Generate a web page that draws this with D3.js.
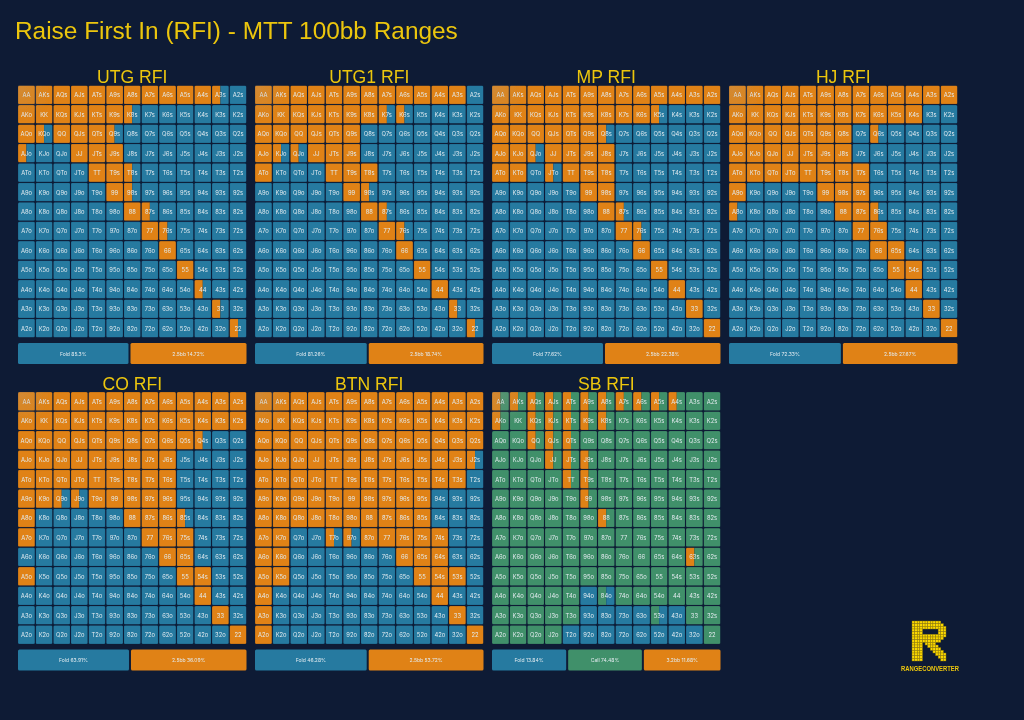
<!DOCTYPE html>
<html>
<head>
<meta charset="utf-8">
<script src="https://d3js.org/d3.v7.min.js"></script>
<style>
html, body { margin: 0; background: #0e1b35; overflow: hidden; }
text { font-family: 'Liberation Sans', Arial, sans-serif; }
.hand, .legend-label { font-family: Inter, sans-serif; fill: #e3ebf0; text-anchor: middle; dominant-baseline: central; }
</style>
</head>
<body>
<div id="my_dataviz"></div>
<script>
// hand grid labels
const ranks = ["A", "K", "Q", "J", "T", "9", "8", "7", "6", "5", "4", "3", "2"];

// raise share of every hand in percent, row by row
const utgRaise = [
  [100,100,100,100,100,100,100,100,100,100,100,50,0],
  [100,100,100,100,100,100,50,0,0,0,0,0,0],
  [100,50,100,100,100,50,0,0,0,0,0,0,0],
  [50,0,0,100,100,100,0,0,0,0,0,0,0],
  [0,0,0,0,100,100,50,0,0,0,0,0,0],
  [0,0,0,0,0,100,50,0,0,0,0,0,0],
  [0,0,0,0,0,0,100,50,0,0,0,0,0],
  [0,0,0,0,0,0,0,100,50,0,0,0,0],
  [0,0,0,0,0,0,0,0,100,0,0,0,0],
  [0,0,0,0,0,0,0,0,0,100,0,0,0],
  [0,0,0,0,0,0,0,0,0,0,50,0,0],
  [0,0,0,0,0,0,0,0,0,0,0,50,0],
  [0,0,0,0,0,0,0,0,0,0,0,0,50]
];
const utg1Raise = [
  [100,100,100,100,100,100,100,100,100,100,100,100,0],
  [100,100,100,100,100,100,100,50,50,0,0,0,0],
  [100,100,100,100,100,100,0,0,0,0,0,0,0],
  [100,50,50,100,100,100,0,0,0,0,0,0,0],
  [100,0,0,0,100,100,100,0,0,0,0,0,0],
  [0,0,0,0,0,100,50,0,0,0,0,0,0],
  [0,0,0,0,0,0,100,50,0,0,0,0,0],
  [0,0,0,0,0,0,0,100,50,0,0,0,0],
  [0,0,0,0,0,0,0,0,100,0,0,0,0],
  [0,0,0,0,0,0,0,0,0,100,0,0,0],
  [0,0,0,0,0,0,0,0,0,0,100,0,0],
  [0,0,0,0,0,0,0,0,0,0,0,50,0],
  [0,0,0,0,0,0,0,0,0,0,0,0,50]
];
const mpRaise = [
  [100,100,100,100,100,100,100,100,100,100,100,100,100],
  [100,100,100,100,100,100,100,100,100,50,0,0,0],
  [100,100,100,100,100,100,50,0,0,0,0,0,0],
  [100,100,50,100,100,100,100,0,0,0,0,0,0],
  [100,100,0,50,100,100,100,0,0,0,0,0,0],
  [0,0,0,0,0,100,100,0,0,0,0,0,0],
  [0,0,0,0,0,0,100,50,0,0,0,0,0],
  [0,0,0,0,0,0,0,100,50,0,0,0,0],
  [0,0,0,0,0,0,0,0,100,0,0,0,0],
  [0,0,0,0,0,0,0,0,0,100,0,0,0],
  [0,0,0,0,0,0,0,0,0,0,100,0,0],
  [0,0,0,0,0,0,0,0,0,0,0,100,0],
  [0,0,0,0,0,0,0,0,0,0,0,0,100]
];
const hjRaise = [
  [100,100,100,100,100,100,100,100,100,100,100,100,100],
  [100,100,100,100,100,100,100,100,100,100,100,0,0],
  [100,100,100,100,100,100,100,0,50,0,0,0,0],
  [100,100,100,100,100,100,100,0,0,0,0,0,0],
  [100,100,100,100,100,100,100,100,0,0,0,0,0],
  [100,0,0,0,0,100,100,100,0,0,0,0,0],
  [50,0,0,0,0,0,100,100,50,0,0,0,0],
  [0,0,0,0,0,0,0,100,100,0,0,0,0],
  [0,0,0,0,0,0,0,0,100,100,0,0,0],
  [0,0,0,0,0,0,0,0,0,100,100,0,0],
  [0,0,0,0,0,0,0,0,0,0,100,0,0],
  [0,0,0,0,0,0,0,0,0,0,0,100,0],
  [0,0,0,0,0,0,0,0,0,0,0,0,100]
];
const coRaise = [
  [100,100,100,100,100,100,100,100,100,100,100,100,100],
  [100,100,100,100,100,100,100,100,100,100,100,100,100],
  [100,100,100,100,100,100,100,100,100,100,50,0,0],
  [100,100,100,100,100,100,100,100,100,0,0,0,0],
  [100,100,100,100,100,100,100,100,100,0,0,0,0],
  [100,100,50,50,100,100,100,100,100,0,0,0,0],
  [100,0,0,0,0,0,100,100,100,50,0,0,0],
  [100,0,0,0,0,0,0,100,100,100,0,0,0],
  [0,0,0,0,0,0,0,0,100,100,0,0,0],
  [100,0,0,0,0,0,0,0,0,100,100,0,0],
  [0,0,0,0,0,0,0,0,0,0,100,0,0],
  [0,0,0,0,0,0,0,0,0,0,0,100,0],
  [0,0,0,0,0,0,0,0,0,0,0,0,100]
];
const btnRaise = [
  [100,100,100,100,100,100,100,100,100,100,100,100,100],
  [100,100,100,100,100,100,100,100,100,100,100,100,100],
  [100,100,100,100,100,100,100,100,100,100,100,100,100],
  [100,100,100,100,100,100,100,100,100,100,100,100,50],
  [100,100,100,100,100,100,100,100,100,100,100,100,0],
  [100,100,100,100,100,100,100,100,100,100,0,0,0],
  [100,100,100,100,100,100,100,100,100,100,0,0,0],
  [100,100,0,0,50,50,100,100,100,100,100,0,0],
  [100,100,0,0,0,0,0,0,100,100,100,0,0],
  [100,100,0,0,0,0,0,0,0,100,100,100,0],
  [100,0,0,0,0,0,0,0,0,0,100,0,0],
  [100,0,0,0,0,0,0,0,0,0,0,100,0],
  [100,0,0,0,0,0,0,0,0,0,0,0,100]
];
const sbRaise = [
  [50,50,50,50,50,50,50,50,50,50,50,0,0],
  [50,0,50,50,50,50,50,0,0,0,0,0,0],
  [0,0,50,50,50,0,0,0,0,0,0,0,0],
  [0,0,0,50,50,50,0,0,0,0,0,0,0],
  [0,0,0,0,50,50,0,0,0,0,0,0,0],
  [0,0,0,0,0,50,0,0,0,0,0,0,0],
  [0,0,0,0,0,0,50,0,0,0,0,0,0],
  [0,0,0,0,0,0,0,0,0,0,0,0,0],
  [0,0,0,0,0,0,0,0,0,0,0,50,0],
  [0,0,0,0,0,0,0,0,0,0,0,0,0],
  [0,0,0,0,0,0,0,0,0,0,0,0,0],
  [0,0,0,0,0,0,0,0,0,0,0,0,0],
  [0,0,0,0,0,0,0,0,0,0,0,0,0]
];
// SB limps: the rest of each raise cell, minus the folded hands at the bottom
const sbCall = [
  [50,50,50,50,50,50,50,50,50,50,50,100,100],
  [50,100,50,50,50,50,50,100,100,100,100,100,100],
  [100,100,50,50,50,100,100,100,100,100,100,100,100],
  [100,100,100,50,50,50,100,100,100,100,100,100,100],
  [100,100,100,100,50,50,100,100,100,100,100,100,100],
  [100,100,100,100,100,50,100,100,100,100,100,100,100],
  [100,100,100,100,100,100,50,100,100,100,100,100,100],
  [100,100,100,100,100,100,100,100,100,100,100,100,100],
  [100,100,100,100,100,100,100,100,100,100,100,50,100],
  [100,100,100,100,100,100,100,100,100,100,100,100,100],
  [100,100,100,100,100,0,50,100,100,100,100,100,100],
  [100,100,100,100,100,0,0,0,0,50,0,100,100],
  [100,100,100,100,0,0,0,0,0,0,0,0,100]
];
const noCall = ranks.map(() => ranks.map(() => 0));

// panel titles and bottom bar labels
const panelTitles = ["UTG RFI", "UTG1 RFI", "MP RFI", "HJ RFI", "CO RFI", "BTN RFI", "SB RFI"];
const panelRaise = [utgRaise, utg1Raise, mpRaise, hjRaise, coRaise, btnRaise, sbRaise];
const panelCall = [noCall, noCall, noCall, noCall, noCall, noCall, sbCall];
const panelBars = [
  ["Fold 85.3%", "2.5bb 14.72%"],
  ["Fold 81.26%", "2.5bb 18.74%"],
  ["Fold 77.62%", "2.5bb 22.38%"],
  ["Fold 72.33%", "2.5bb 27.67%"],
  ["Fold 63.91%", "2.5bb 36.09%"],
  ["Fold 46.28%", "2.5bb 53.72%"],
  ["Fold 13.84%", "Call 74.48%", "3.2bb 11.68%"]
];

// logo bitmap
const logoBits = [
  "###########..",
  "############.",
  "#############",
  "####......###",
  "####......###",
  "#############",
  "############.",
  "###########..",
  "####.####....",
  "####..####...",
  "####...####..",
  "####....####.",
  "####.....####",
  "####......###",
  "####.......##"
];

const colors = {raise: "#e08214", call: "#41906a", fold: "#257aa0", yellow: "#ecc60c"};

const root = d3.select("#my_dataviz")
  .append("svg")
    .attr("width", 1024)
    .attr("height", 720);

// the reference is a soft, slightly blurred picture
root.append("defs").append("filter")
  .attr("id", "soften")
  .attr("filterUnits", "userSpaceOnUse")
  .attr("x", 0).attr("y", 0).attr("width", 1024).attr("height", 720)
  .append("feGaussianBlur")
    .attr("stdDeviation", 0.4);

const svg = root.append("g").attr("filter", "url(#soften)");

svg.append("text")
  .attr("x", 15)
  .attr("y", 39)
  .attr("font-size", 24.4)
  .attr("fill", colors.yellow)
  .text("Raise First In (RFI) - MTT 100bb Ranges");

// one scale set shared by all the grids
const gridWidth = 228.5, gridHeight = 252;
const x = d3.scaleBand().domain(ranks).range([0, gridWidth]).paddingInner(0.04);
const y = d3.scaleBand().domain(ranks).range([0, gridHeight]).paddingInner(0.04);
const share = d3.scaleLinear().domain([0, 100]).range([0, x.bandwidth()]);

// panel positions
const panelX = d3.scalePoint().domain([0, 1, 2, 3]).range([18, 729]);
const panelY = d3.scalePoint().domain([0, 1]).range([85.5, 392]);

const defs = root.select("defs");
defs.append("clipPath").attr("id", "cell-clip")
  .append("rect")
    .attr("width", x.bandwidth())
    .attr("height", y.bandwidth())
    .attr("rx", 1.5);

// the muted patch in the top left corner of each grid
const glow = defs.append("radialGradient").attr("id", "corner-glow")
  .attr("gradientUnits", "userSpaceOnUse")
  .attr("cx", 4).attr("cy", 4).attr("r", 32);
glow.append("stop").attr("offset", 0).attr("stop-color", "#a8a090").attr("stop-opacity", 0.24);
glow.append("stop").attr("offset", 1).attr("stop-color", "#a8a090").attr("stop-opacity", 0);

const measure = svg.append("text").attr("class", "legend-label").attr("font-size", 5);

panelTitles.forEach(function(title, p) {
  const panel = svg.append("g")
    .attr("transform", "translate(" + panelX(p % 4) + "," + panelY(Math.floor(p / 4)) + ")");

  panel.append("text")
    .attr("x", gridWidth / 2)
    .attr("y", -2.5)
    .attr("text-anchor", "middle")
    .attr("font-size", 17.6)
    .attr("fill", colors.yellow)
    .text(title);

  // flatten the matrix, one entry per hand
  const cells = [];
  ranks.forEach(function(rowRank, i) {
    ranks.forEach(function(colRank, j) {
      const raise = panelRaise[p][i][j], call = panelCall[p][i][j];
      let hand = rowRank + colRank;
      if (j > i) hand = rowRank + colRank + "s";
      if (j < i) hand = colRank + rowRank + "o";
      cells.push({rowRank, colRank, hand, raise, call, fold: 100 - raise - call});
    });
  });

  const cell = panel.selectAll(".cell")
    .data(cells)
    .enter()
    .append("g")
      .attr("class", "cell")
      .attr("transform", d => "translate(" + x(d.colRank) + "," + y(d.rowRank) + ")")
      .attr("clip-path", "url(#cell-clip)");

  // raise, then call, then fold, left to right
  cell.append("rect").attr("height", y.bandwidth())
    .attr("width", d => share(d.raise))
    .attr("fill", colors.raise);
  cell.append("rect").attr("height", y.bandwidth())
    .attr("x", d => share(d.raise))
    .attr("width", d => share(d.call))
    .attr("fill", colors.call);
  cell.append("rect").attr("height", y.bandwidth())
    .attr("x", d => share(d.raise + d.call))
    .attr("width", d => share(d.fold))
    .attr("fill", colors.fold);
  cell.append("rect")
    .attr("width", x.bandwidth())
    .attr("height", y.bandwidth())
    .attr("rx", 1.5)
    .attr("fill", "none")
    .attr("stroke", "#0e1b35")
    .attr("stroke-opacity", 0.25)
    .attr("stroke-width", 0.8);
  cell.append("text")
    .attr("class", "hand")
    .attr("x", x.bandwidth() / 2)
    .attr("y", y.bandwidth() / 2)
    .attr("font-size", 5.8)
    .text(d => d.hand);

  panel.append("rect")
    .attr("width", 40)
    .attr("height", 40)
    .attr("fill", "url(#corner-glow)");

  // bottom bar: segments share the free space evenly on top of their label width
  const labels = panelBars[p];
  const gap = 2, barY = gridHeight + 5.5, barHeight = 21;
  const textWidths = labels.map(l => measure.text(l).node().getComputedTextLength());
  const extra = (gridWidth - gap * (labels.length - 1) - d3.sum(textWidths)) / labels.length;
  let left = 0;
  labels.forEach(function(label, k) {
    const w = textWidths[k] + extra;
    const isFold = label.startsWith("Fold"), isCall = label.startsWith("Call");
    panel.append("rect")
      .attr("x", left)
      .attr("y", barY)
      .attr("width", w)
      .attr("height", barHeight)
      .attr("rx", 1.5)
      .attr("fill", isFold ? colors.fold : isCall ? colors.call : colors.raise);
    panel.append("text")
      .attr("class", "legend-label")
      .attr("x", left + w / 2)
      .attr("y", barY + barHeight / 2)
      .attr("font-size", 5)
      .text(label);
    left += w + gap;
  });
});
measure.remove();

// logo
const logoCols = d3.range(logoBits[0].length), logoRows = d3.range(logoBits.length);
const logoX = d3.scaleBand().domain(logoCols).range([912, 946]);
const logoY = d3.scaleBand().domain(logoRows).range([621, 661]);
const logo = svg.append("g");
logoRows.forEach(function(r) {
  logoCols.forEach(function(c) {
    if (logoBits[r][c] === "#") {
      logo.append("rect")
        .attr("x", logoX(c))
        .attr("y", logoY(r))
        .attr("width", logoX.bandwidth())
        .attr("height", logoY.bandwidth())
        .attr("fill", "#fbd800")
        .attr("stroke", "#8a7710")
        .attr("stroke-width", 0.4);
    }
  });
});
svg.append("text")
  .attr("x", 901)
  .attr("y", 671)
  .attr("font-family", "DejaVu Sans Mono")
  .attr("font-weight", "bold")
  .attr("font-size", 7)
  .attr("textLength", 58)
  .attr("lengthAdjust", "spacingAndGlyphs")
  .attr("fill", colors.yellow)
  .text("RANGECONVERTER");
</script>
</body>
</html>
